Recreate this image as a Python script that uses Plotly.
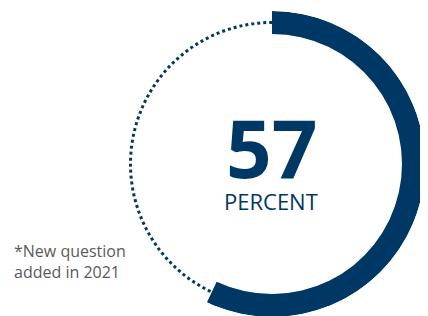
import plotly.graph_objects as go

# Data
percent_value = 57
big_label = "57"
unit_label = "PERCENT"
footnote_lines = ["*New question", "added in 2021"]

NAVY = "#003865"
GRAY = "#5a5a5a"

# page is 428x316, body has an 8px default margin; the figure overflows by 8px
OFF = 8
W, H = 428, 316


def px(xp):
    return (xp - OFF) / W


def py(yp):
    return (H - (yp - OFF)) / H


# ring geometry (radial units = px)
outer_r = 153
thick = 23
ring_mid = outer_r - thick / 2

span = percent_value / 100 * 360

fig = go.Figure()
fig.add_trace(go.Barpolar(
    r=[thick], base=[outer_r - thick], theta=[span / 2], width=[span],
    marker=dict(color=NAVY, line=dict(width=0)),
    hoverinfo="skip", showlegend=False,
))

cx, cy = 272, 164  # page coords of ring centre
fig.update_layout(
    width=W, height=H,
    margin=dict(l=0, r=0, t=0, b=0),
    paper_bgcolor="white", plot_bgcolor="white",
    showlegend=False,
    polar=dict(
        domain=dict(x=[px(cx - outer_r), px(cx + outer_r)],
                    y=[max(0, py(cy + outer_r)), py(cy - outer_r)]),
        bgcolor="rgba(0,0,0,0)",
        radialaxis=dict(range=[0, outer_r], tickvals=[ring_mid], showticklabels=False,
                        ticks="", showline=False, showgrid=True, gridcolor=NAVY,
                        gridwidth=2.5, griddash="3px,3px"),
        angularaxis=dict(rotation=90, direction="clockwise", showgrid=False,
                         showline=False, showticklabels=False, ticks=""),
    ),
    annotations=[
        dict(text="<b>" + big_label + "</b>", x=px(271), y=py(146),
             xref="paper", yref="paper", xanchor="center", yanchor="middle",
             height=74, valign="middle",
             showarrow=False, font=dict(family="Open Sans", size=80, color=NAVY)),
        dict(text=unit_label, x=px(271), y=py(201),
             xref="paper", yref="paper", xanchor="center", yanchor="middle",
             showarrow=False, font=dict(family="Open Sans", size=22, color=NAVY)),
        dict(text="<br>".join(footnote_lines), x=px(12), y=py(238),
             xref="paper", yref="paper", xanchor="left", yanchor="top", align="left",
             showarrow=False, font=dict(family="Open Sans", size=16, color=GRAY)),
    ],
)

fig.write_html("out.html")
